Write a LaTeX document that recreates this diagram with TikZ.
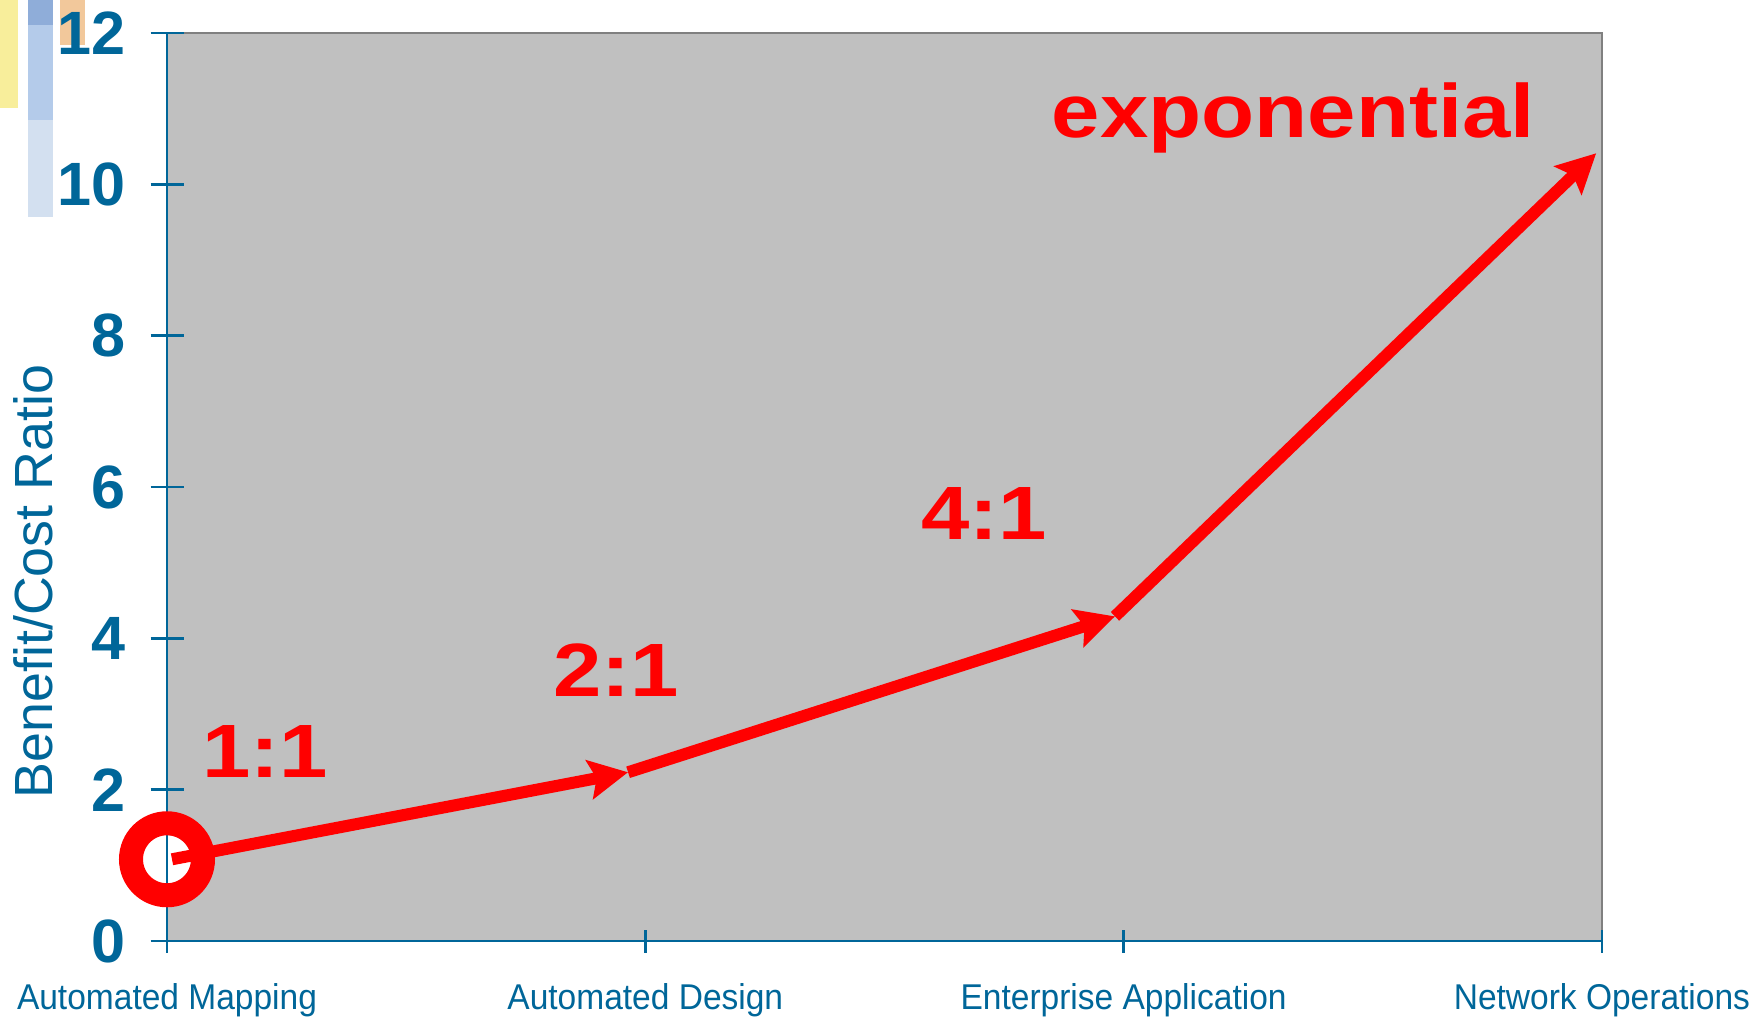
\documentclass[tikz,border=0pt]{standalone}
\usepackage{fontspec}
\setmainfont{Liberation Sans}
\usetikzlibrary{arrows.meta}
\definecolor{axisblue}{RGB}{0,102,153}
\definecolor{plotgray}{RGB}{192,192,192}
\definecolor{framegray}{RGB}{128,128,128}
\definecolor{baryellow}{RGB}{248,238,155}
\definecolor{barorange}{RGB}{242,200,155}
\definecolor{barblueA}{RGB}{143,173,217}
\definecolor{barblueB}{RGB}{180,203,234}
\definecolor{barblueC}{RGB}{211,224,240}

\begin{document}
\begin{tikzpicture}[x=4.783cm,y=0.7567cm,
    axisline/.style={axisblue,line width=0.7pt},
    ratio/.style={text=red,font=\bfseries\fontsize{21.5}{24}\selectfont,xscale=1.15,anchor=base,inner sep=0pt},
    catlabel/.style={text=axisblue,font=\fontsize{10.2}{12}\selectfont,xscale=0.935,anchor=base,inner sep=0pt},
    ticklabel/.style={text=axisblue,font=\bfseries\fontsize{17.4}{20}\selectfont,anchor=east,inner sep=0pt},
    redarrow/.style={red,line width=1.2mm,-{Stealth[length=3.9mm,width=3.9mm,inset=0.7mm]}}]
  \useasboundingbox (-1.67cm,-0.77cm) rectangle (15.93cm,9.41cm);
  % bars in the corner
  \fill[baryellow] (-1.67cm,9.41cm) rectangle (-1.49cm,8.33cm);
  \fill[barblueA] (-1.39cm,9.41cm) rectangle (-1.14cm,9.16cm);
  \fill[barblueB] (-1.39cm,9.16cm) rectangle (-1.14cm,8.21cm);
  \fill[barblueC] (-1.39cm,8.21cm) rectangle (-1.14cm,7.24cm);
  \fill[barorange] (-1.07cm,9.41cm) rectangle (-0.82cm,8.96cm);
  % plot area
  \fill[plotgray] (0,0) rectangle (3,12);
  \coordinate (origin) at (0,1.08);
  \fill[white] (origin) circle[radius=2.4mm];
  \draw[framegray,line width=0.6pt] (0,12) -- (3,12) -- (3,0);
  \draw[axisline] (0,12) -- (0,0) -- (3,0);
  \foreach \y in {0,2,...,12}
  {
    \draw[axisline] ([xshift=-0.165cm]0,\y) -- ([xshift=0.165cm]0,\y);
    \node[ticklabel] (yl\y) at ([xshift=-0.41cm]0,\y) {\y};
  }
  \foreach \x/\name in {0/Automated Mapping,1/Automated Design,2/Enterprise Application,3/Network Operations}
  {
    \draw[axisline] ([yshift=-0.115cm]\x,0) -- ([yshift=0.115cm]\x,0);
    \node[catlabel] (cat\x) at ([yshift=-0.68cm]\x,0) {\name};
  }
  \node[rotate=90,anchor=base,text=axisblue,font=\fontsize{15.3}{18}\selectfont,inner sep=0pt] (ylabel) at ([xshift=-1.14cm]0,4.75) {Benefit/Cost Ratio};
  % the path
  \draw[red,line width=2.4mm] (origin) circle[radius=3.6mm];
  \coordinate (p1) at (0.964,2.23);
  \coordinate (p2) at (1.982,4.29);
  \coordinate (p3) at (2.988,10.41);
  \draw[redarrow] (p1) -- (p2);
  \draw[redarrow] ([xshift=0.5mm]origin) -- (p1);
  \draw[redarrow] (p2) -- (p3);
  \node[ratio] (r11) at (0.205,2.167) {1:1};
  \node[ratio] (r21) at (0.939,3.225) {2:1};
  \node[ratio] (r41) at (1.708,5.30) {4:1};
  \node[ratio] (expo) at (2.355,10.625) {exponential};
\end{tikzpicture}
\end{document}
